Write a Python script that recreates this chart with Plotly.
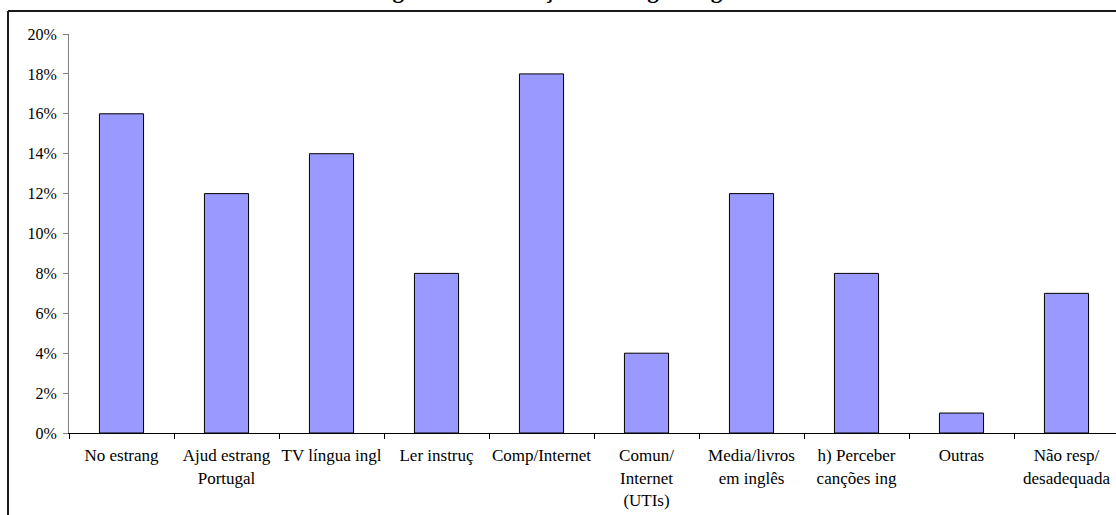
import plotly.graph_objects as go

# Survey answers: situations where English is used outside school
categories = [
    "No estrang",
    "Ajud estrang<br>Portugal",
    "TV língua ingl",
    "Ler instruç",
    "Comp/Internet",
    "Comun/<br>Internet<br>(UTIs)",
    "Media/livros<br>em inglês",
    "h) Perceber<br>canções ing",
    "Outras",
    "Não resp/<br>desadequada",
]
percentages = [16, 12, 14, 8, 18, 4, 12, 8, 1, 7]
y_ticks = [0, 2, 4, 6, 8, 10, 12, 14, 16, 18, 20]
title_text = "Figura 7 – Utilização da Língua Inglesa"

W, H = 1116, 515
L, T, B = 69, 34, 82
plot_w = W - L
plot_h = H - T - B


def px_x(p):
    return (p - L) / plot_w


def px_y(p):
    return (H - B - p) / plot_h


serif = "Liberation Serif, Times New Roman, serif"

fig = go.Figure(
    go.Bar(
        x=categories,
        y=percentages,
        marker=dict(color="#9999FF", line=dict(color="#000000", width=1)),
        hoverinfo="x+y",
    )
)

fig.update_layout(
    width=W,
    height=H,
    margin=dict(l=L, r=0, t=T, b=B),
    paper_bgcolor="white",
    plot_bgcolor="white",
    showlegend=False,
    bargap=0.58,
    font=dict(family=serif, color="black"),
)

fig.update_xaxes(
    type="category",
    range=[-0.5, -0.5 + plot_w / 105.0],
    tickson="boundaries",
    ticks="outside",
    ticklen=5,
    tickcolor="black",
    showline=True,
    linecolor="black",
    linewidth=1,
    showgrid=False,
    zeroline=False,
    tickangle=0,
    ticklabelstandoff=7,
    tickfont=dict(family=serif, size=17, color="black"),
)

fig.update_yaxes(
    range=[0, 20],
    tickvals=y_ticks,
    ticktext=[f"{v}%" for v in y_ticks],
    ticks="outside",
    ticklen=5,
    tickcolor="#808080",
    showline=True,
    linecolor="#808080",
    linewidth=1,
    showgrid=False,
    zeroline=False,
    ticklabelstandoff=3,
    tickfont=dict(family=serif, size=16, color="black"),
)

# Chart-area border (left and top edges)
frame_x = px_x(8)
frame_top = px_y(11)
fig.add_shape(type="line", xref="paper", yref="paper",
              x0=frame_x, x1=frame_x, y0=px_y(H + 10), y1=frame_top,
              line=dict(color="#1a1a1a", width=2))
fig.add_shape(type="line", xref="paper", yref="paper",
              x0=frame_x, x1=px_x(W + 10), y0=frame_top, y1=frame_top,
              line=dict(color="#1a1a1a", width=2))

# Chart title, sitting above the top border
fig.add_annotation(
    text=f"<b>{title_text}</b>",
    xref="paper", yref="paper",
    x=px_x(566), y=px_y(5),
    xanchor="center", yanchor="bottom",
    showarrow=False,
    font=dict(family=serif, size=23, color="black"),
)

fig.write_html("out.html")
